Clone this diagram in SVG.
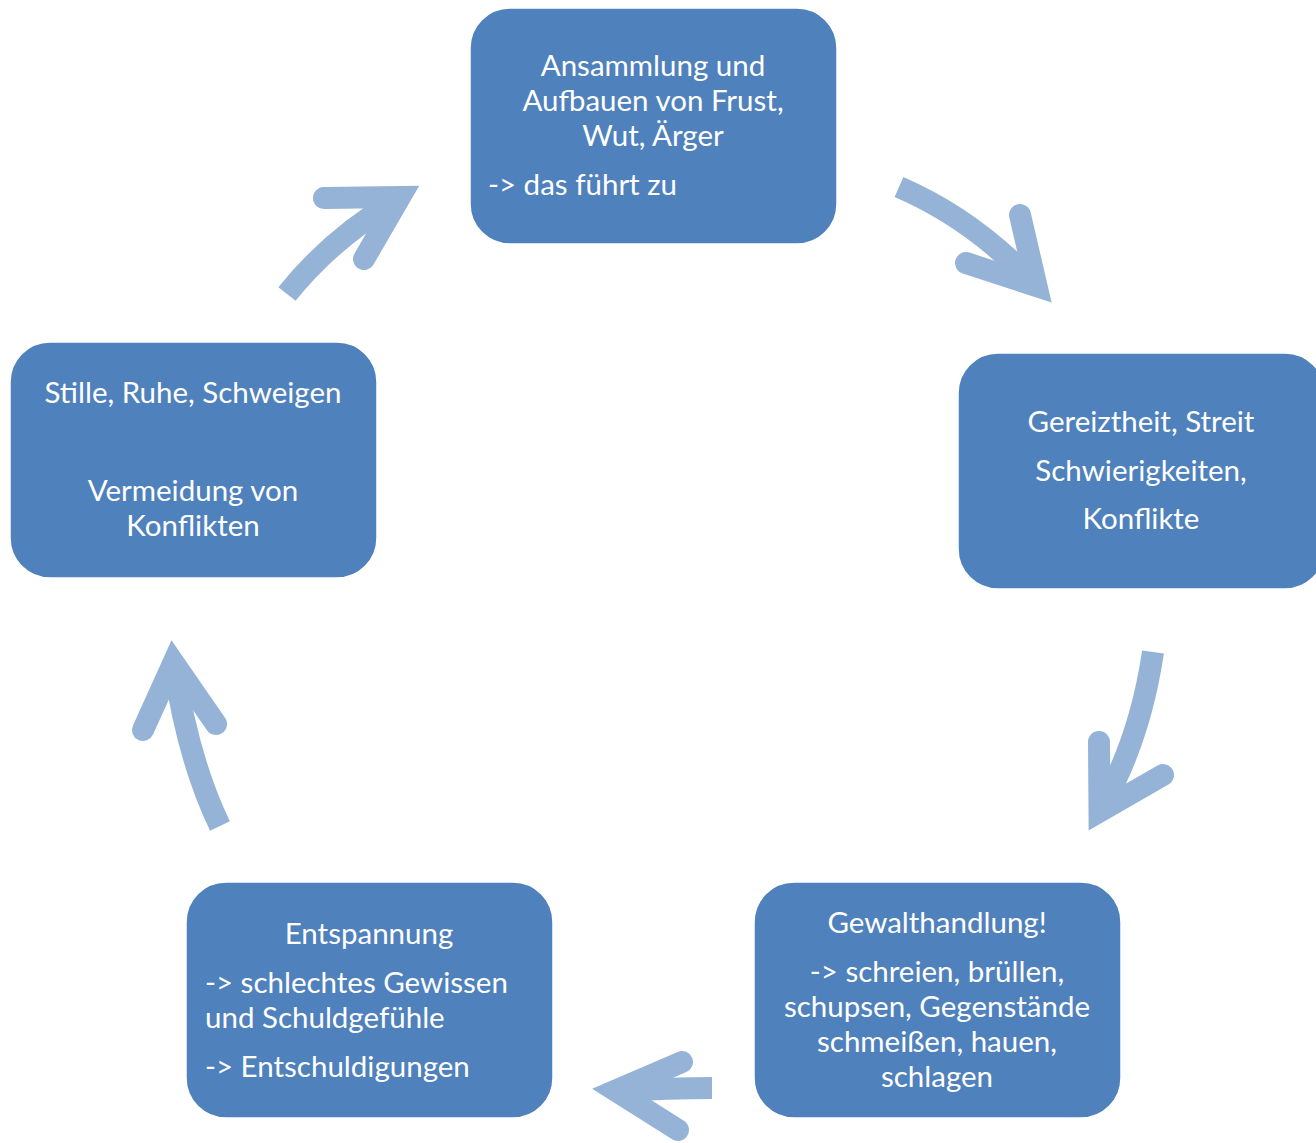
<svg xmlns="http://www.w3.org/2000/svg" width="1316" height="1143" viewBox="0 0 1316 1143">
<style>
.box{fill:#4F81BD;stroke:#ffffff;stroke-width:1.5}
.t{font-family:Lato,"Open Sans",sans-serif;font-size:29.5px;fill:#ffffff}
.c{text-anchor:middle}
.shaft{fill:none;stroke:#95B3D7;stroke-width:22;stroke-linecap:butt}
.head{fill:none;stroke:#95B3D7;stroke-width:22;stroke-linecap:round;stroke-linejoin:miter;stroke-miterlimit:10}
</style>
<rect width="1316" height="1143" fill="#ffffff"/>
<g id="connectors">
  <g id="arrow1">
    <path class="shaft" d="M287 294 Q330 240 396 200"/>
    <path class="head" d="M324 198 L400 197 L364 259"/>
  </g>
  <g id="arrow2">
    <path class="shaft" d="M899 187 Q975 220 1034 284"/>
    <path class="head" d="M1020 215 L1036.5 286 L966 263"/>
  </g>
  <g id="arrow3">
    <path class="shaft" d="M1153 652 Q1140 740 1101 808"/>
    <path class="head" d="M1099 742 L1099.5 811.5 L1163 775"/>
  </g>
  <g id="arrow4">
    <path class="shaft" d="M712 1088 Q670 1088 618 1091"/>
    <path class="head" d="M682 1062 L615.6 1090.6 L678 1130"/>
  </g>
  <g id="arrow5">
    <path class="shaft" d="M220 826 Q188 760 174 665"/>
    <path class="head" d="M143 730 L173.5 662.6 L216 724"/>
  </g>
</g>
<g id="node1">
  <rect class="box" x="470" y="8" width="367" height="236" rx="40"/>
  <text class="t c" x="653" y="76">Ansammlung und</text>
  <text class="t c" x="653" y="111">Aufbauen von Frust,</text>
  <text class="t c" x="653" y="146">Wut, Ärger</text>
  <text class="t" x="488" y="195">-&gt; das führt zu</text>
</g>
<g id="node2">
  <rect class="box" x="958" y="353" width="367" height="236" rx="40"/>
  <text class="t c" x="1141" y="432">Gereiztheit, Streit</text>
  <text class="t c" x="1141" y="481">Schwierigkeiten,</text>
  <text class="t c" x="1141" y="529">Konflikte</text>
</g>
<g id="node3">
  <rect class="box" x="754" y="882" width="367" height="236" rx="40"/>
  <text class="t c" x="937" y="933">Gewalthandlung!</text>
  <text class="t c" x="937" y="982">-&gt; schreien, brüllen,</text>
  <text class="t c" x="937" y="1017">schupsen, Gegenstände</text>
  <text class="t c" x="937" y="1052">schmeißen, hauen,</text>
  <text class="t c" x="937" y="1087">schlagen</text>
</g>
<g id="node4">
  <rect class="box" x="186" y="882" width="367" height="236" rx="40"/>
  <text class="t c" x="369" y="944">Entspannung</text>
  <text class="t" x="205" y="993">-&gt; schlechtes Gewissen</text>
  <text class="t" x="205" y="1028">und Schuldgefühle</text>
  <text class="t" x="205" y="1077">-&gt; Entschuldigungen</text>
</g>
<g id="node5">
  <rect class="box" x="10" y="342" width="367" height="236" rx="40"/>
  <text class="t c" x="193" y="403">Stille, Ruhe, Schweigen</text>
  <text class="t c" x="193" y="501">Vermeidung von</text>
  <text class="t c" x="193" y="536">Konflikten</text>
</g>
</svg>
